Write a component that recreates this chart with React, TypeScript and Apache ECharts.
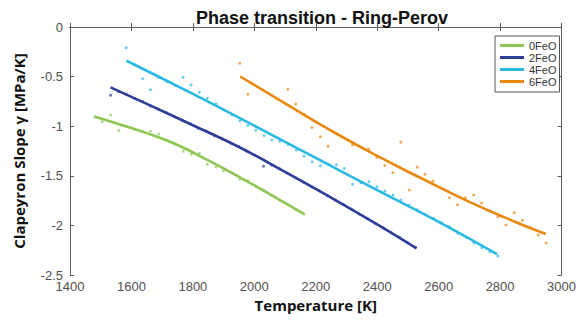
import React, { useEffect, useRef } from "react";
import * as echarts from "echarts";

// ---- data ----
const legendNames = ["0FeO", "2FeO", "4FeO", "6FeO"];
const xTicks = { min: 1400, max: 3000, step: 200 };
const yTicks = { min: -2.5, max: 0, step: 0.5 };

// fitted curves (temperature K, Clapeyron slope MPa/K)
const fit0T = [1481, 1550, 1650, 1750, 1850, 1950, 2050, 2161];
const fit0G = [-0.905, -0.97, -1.07, -1.19, -1.345, -1.51, -1.685, -1.885];
const fit2T = [1532, 1650, 1800, 1950, 2100, 2250, 2400, 2528];
const fit2G = [-0.608, -0.775, -0.99, -1.21, -1.46, -1.72, -1.99, -2.231];
const fit4T = [1584, 1800, 2000, 2200, 2400, 2600, 2790];
const fit4G = [-0.34, -0.675, -0.995, -1.32, -1.645, -1.965, -2.29];
const fit6T = [1954, 2100, 2250, 2400, 2550, 2700, 2850, 2949];
const fit6G = [-0.499, -0.77, -1.045, -1.3, -1.535, -1.763, -1.965, -2.087];

// raw points
const pts0T = [1481, 1505, 1532, 1559, 1585, 1611, 1637, 1662, 1689, 1716, 1742, 1769, 1795, 1821, 1847, 1875, 1900, 1926, 1953, 1979, 2005, 2031, 2057, 2083, 2109, 2135, 2161];
const pts0G = [-0.904, -0.955, -0.887, -1.043, -1.0, -1.03, -1.057, -1.051, -1.079, -1.145, -1.177, -1.253, -1.283, -1.273, -1.384, -1.411, -1.452, -1.47, -1.535, -1.549, -1.606, -1.652, -1.697, -1.745, -1.79, -1.84, -1.885];

const pts2T = [1532, 1558, 1584, 1610, 1636, 1662, 1688, 1714, 1740, 1766, 1792, 1818, 1844, 1870, 1896, 1922, 1948, 1974, 2000, 2030, 2056, 2082, 2108, 2134, 2160, 2186, 2212, 2238, 2264, 2290, 2316, 2342, 2368, 2394, 2420, 2446, 2472, 2498, 2524];
const pts2G = [-0.687, -0.65, -0.68, -0.72, -0.75, -0.795, -0.83, -0.865, -0.905, -0.94, -0.975, -1.02, -1.05, -1.095, -1.13, -1.17, -1.205, -1.25, -1.29, -1.404, -1.39, -1.43, -1.475, -1.52, -1.565, -1.61, -1.65, -1.7, -1.745, -1.79, -1.835, -1.885, -1.93, -1.98, -2.025, -2.075, -2.12, -2.17, -2.22];

const pts4T = [1583, 1610, 1637, 1662, 1689, 1716, 1742, 1768, 1794, 1821, 1847, 1875, 1900, 1927, 1953, 1979, 2005, 2032, 2057, 2083, 2110, 2137, 2162, 2188, 2215, 2242, 2267, 2293, 2320, 2347, 2373, 2399, 2425, 2451, 2477, 2504, 2530, 2556, 2583, 2609, 2635, 2663, 2690, 2715, 2741, 2767, 2793];
const pts4G = [-0.209, -0.38, -0.521, -0.632, -0.51, -0.55, -0.59, -0.507, -0.585, -0.658, -0.719, -0.776, -0.835, -0.887, -0.946, -0.993, -1.041, -1.094, -1.139, -1.15, -1.184, -1.24, -1.302, -1.358, -1.399, -1.384, -1.388, -1.427, -1.586, -1.57, -1.559, -1.61, -1.653, -1.696, -1.744, -1.798, -1.842, -1.888, -1.929, -1.972, -2.013, -2.08, -2.124, -2.174, -2.225, -2.268, -2.308];

const pts6T = [1953, 1979, 2109, 2135, 2162, 2188, 2215, 2240, 2320, 2372, 2399, 2425, 2451, 2477, 2504, 2530, 2556, 2582, 2635, 2661, 2687, 2714, 2740, 2767, 2793, 2819, 2846, 2873, 2897, 2924, 2950];
const pts6G = [-0.366, -0.678, -0.628, -0.776, -0.88, -1.013, -1.107, -1.202, -1.19, -1.23, -1.313, -1.396, -1.47, -1.161, -1.643, -1.413, -1.484, -1.552, -1.721, -1.792, -1.721, -1.694, -1.774, -1.852, -1.913, -1.996, -1.873, -1.949, -2.019, -2.097, -2.177];

// ---- style ----
const colors = ["#8DC651", "#2E3D98", "#2BB8E2", "#E8880E"];
const axisColor = "#5c5c5c";
const labelColor = "#505050";

const zip = (a: number[], b: number[]) => a.map((v, i) => [v, b[i]]);

export default function App() {
  const ref = useRef<HTMLDivElement>(null);
  useEffect(() => {
    if (!ref.current) return;
    const chart = echarts.init(ref.current, null, { renderer: "svg" });
    const fits = [
      [fit0T, fit0G],
      [fit2T, fit2G],
      [fit4T, fit4G],
      [fit6T, fit6G],
    ];
    const pts = [
      [pts0T, pts0G],
      [pts2T, pts2G],
      [pts4T, pts4G],
      [pts6T, pts6G],
    ];
    const scatterSeries = pts.map((p, i) => ({
      name: legendNames[i] + " data",
      type: "scatter",
      data: zip(p[0], p[1]),
      symbolSize: 3,
      itemStyle: { color: colors[i], opacity: 0.7 },
      silent: true,
      z: 2,
    }));
    const lineSeries = fits.map((f, i) => ({
      name: legendNames[i],
      type: "line",
      data: zip(f[0], f[1]),
      smooth: true,
      showSymbol: false,
      lineStyle: { color: colors[i], width: 2.6 },
      itemStyle: { color: colors[i] },
      z: 3,
    }));
    const baseAxis = {
      axisLine: { show: true, lineStyle: { color: axisColor, width: 1 } },
      axisTick: { show: true, inside: true, length: 4, lineStyle: { color: axisColor } },
      splitLine: { show: false },
    };
    chart.setOption({
      animation: false,
      backgroundColor: "#ffffff",
      title: {
        text: "Phase transition - Ring-Perov",
        left: 317,
        textAlign: "center",
        top: 4,
        textStyle: { fontFamily: "Liberation Sans", fontWeight: "bold", fontSize: 18, color: "#111" },
      },
      legend: {
        data: legendNames,
        orient: "vertical",
        left: 495,
        top: 36,
        icon: "rect",
        itemWidth: 24,
        itemHeight: 3,
        itemGap: 1,
        padding: [4, 3, 5, 5],
        borderColor: "#555",
        borderWidth: 1,
        backgroundColor: "#fff",
        textStyle: { fontFamily: "Liberation Sans", fontSize: 11, color: "#333", lineHeight: 11 },
      },
      grid: { left: 70, right: 15, top: 27, bottom: 50, containLabel: false },
      xAxis: [
        {
          ...baseAxis,
          type: "value",
          position: "bottom",
          min: xTicks.min,
          max: xTicks.max,
          interval: xTicks.step,
          name: "Temperature [K]",
          nameLocation: "middle",
          nameGap: 22,
          nameTextStyle: { fontFamily: "Open Sans", fontWeight: "bold", fontSize: 15, color: "#111" },
          axisLabel: {
            fontFamily: "Liberation Sans",
            fontSize: 13,
            color: labelColor,
            margin: 5,
            formatter: (v: number) => String(v),
          },
        },
        {
          ...baseAxis,
          type: "value",
          position: "top",
          min: xTicks.min,
          max: xTicks.max,
          interval: xTicks.step,
          axisLabel: { show: false },
        },
      ],
      yAxis: [
        {
          ...baseAxis,
          type: "value",
          position: "left",
          min: yTicks.min,
          max: yTicks.max,
          interval: yTicks.step,
          name: "Clapeyron Slope γ [MPa/K]",
          nameLocation: "middle",
          nameGap: 44,
          nameTextStyle: { fontFamily: "Open Sans", fontWeight: "bold", fontSize: 15, color: "#111" },
          axisLabel: {
            fontFamily: "Liberation Sans",
            fontSize: 13,
            color: labelColor,
            margin: 7,
            formatter: (v: number) => String(v),
          },
        },
        {
          ...baseAxis,
          type: "value",
          position: "right",
          min: yTicks.min,
          max: yTicks.max,
          interval: yTicks.step,
          axisLabel: { show: false },
        },
      ],
      series: [...scatterSeries, ...lineSeries],
    });
    return () => chart.dispose();
  }, []);
  return (
    <div
      ref={ref}
      style={{ position: "fixed", left: 0, top: 0, width: 579, height: 325 }}
    />
  );
}
